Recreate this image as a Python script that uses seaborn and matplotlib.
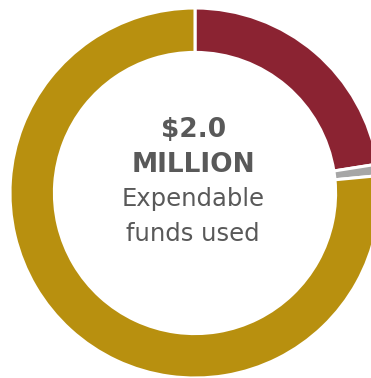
import matplotlib
matplotlib.use("Agg")
import matplotlib.pyplot as plt
import seaborn as sns

categories = ["Category A", "Category B", "Category C"]
values = [0.45, 0.02, 1.53]
colors = ["#8B2332", "#A6A6A6", "#B8900F"]
center_lines = ["$2.0", "MILLION", "Expendable", "funds used"]

sns.set_theme(style="white")
plt.rcParams['font.family'] = ['DejaVu Sans']

fig = plt.figure(figsize=(3.71, 3.78), dpi=100)
ax = fig.add_axes([10/371, 0/378, 370/371, 370/378])
ax.pie(values, colors=colors, startangle=90, counterclock=False, radius=1,
       wedgeprops=dict(width=0.24, edgecolor="white", linewidth=2.2))
ax.set_xlim(-1, 1)
ax.set_ylim(-1, 1)
ax.axis("off")

tc = "#595959"
ax.text(-0.01, 0.303, center_lines[0], ha="center", va="baseline", fontsize=19, fontweight="bold", color=tc)
ax.text(-0.01, 0.114, center_lines[1], ha="center", va="baseline", fontsize=19, fontweight="bold", color=tc)
ax.text(-0.01, -0.070, center_lines[2], ha="center", va="baseline", fontsize=17.5, color=tc)
ax.text(-0.01, -0.259, center_lines[3], ha="center", va="baseline", fontsize=17.5, color=tc)

fig.savefig("out.png", dpi=100)
